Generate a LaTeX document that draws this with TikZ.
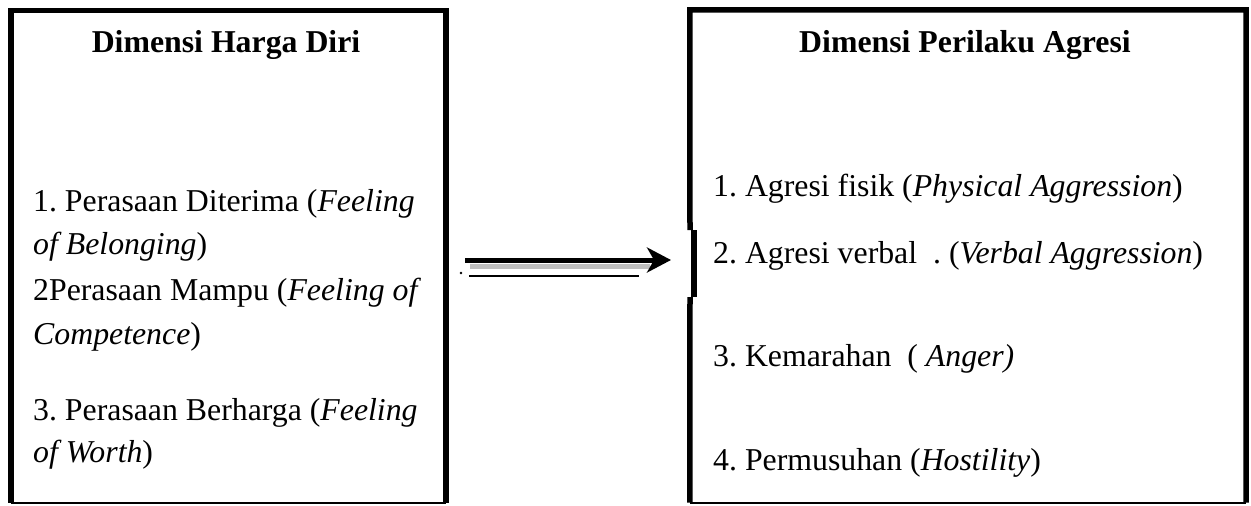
\documentclass[tikz,border=0pt]{standalone}
\usepackage{fontspec}
\setmainfont{Liberation Serif}
\usetikzlibrary{arrows.meta}
\begin{document}
\frenchspacing
\begin{tikzpicture}[x=1pt,y=-1pt,
  boxshape/.style={rectangle,draw=none,inner sep=0pt},
  thinedge/.style={line width=1.6pt,draw=black},
  thickedge/.style={line width=5.5pt,draw=black},
  txt/.style={anchor=base west,inner sep=0pt,font=\fontsize{31.8}{38}\selectfont},
  ttl/.style={anchor=base,inner sep=0pt,font=\fontsize{31.8}{38}\selectfont\bfseries},
  arrowshaft/.style={line width=5pt,draw=black,-{Stealth[length=24pt,width=25pt,inset=7pt]}}
]
\useasboundingbox (0,0) rectangle (1251,506);
% left box
\node[boxshape,minimum width=435pt,minimum height=492pt] (L) at (228.5,256.5) {};
\draw[thinedge] (L.south west) -- (L.south east);
\draw[thickedge] (L.south west) -- (L.north west) -- (L.north east) -- (L.south east);
% right box
\node[boxshape,minimum width=556pt,minimum height=492.5pt] (R) at (968,256.25) {};
\coordinate (j1) at (690,230);
\coordinate (j2) at (694,230);
\coordinate (j3) at (694,297);
\coordinate (j4) at (690,297);
\draw[thinedge] (R.south west) -- (R.south east);
\draw[thickedge] (j1) -- (R.north west) -- (R.north east) -- (R.south east);
\draw[thickedge] (j2) -- (j3);
\draw[thickedge] (j4) -- (R.south west);
% titles
\node[ttl] (lt) at (226,52) {Dimensi Harga Diri};
\node[ttl] (rt) at (965,52) {Dimensi Perilaku Agresi};
% left items
\node[txt] (l1) at (33,211) {1. Perasaan Diterima (\textit{Feeling}};
\node[txt] (l2) at (33,254) {\textit{of Belonging})};
\node[txt] (l3) at (33,300) {2Perasaan Mampu (\textit{Feeling of}};
\node[txt] (l4) at (33,344) {\textit{Competence})};
\node[txt] (l5) at (33,420) {3. Perasaan Berharga (\textit{Feeling}};
\node[txt] (l6) at (33,462) {\textit{of Worth})};
% right items
\node[txt] (r1) at (713,196) {1. Agresi fisik (\textit{Physical Aggression})};
\node[txt] (r2) at (713,263) {2. Agresi verbal\ \ . (\textit{Verbal Aggression})};
\node[txt] (r3) at (713,366) {3. Kemarahan\ \ ( \textit{Anger)}};
\node[txt] (r4) at (713,470) {4. Permusuhan (\textit{Hostility})};
% arrow
\coordinate (as) at (465,260);
\coordinate (ae) at (671,260);
\draw[line width=5pt,draw=black!25] (470,266) -- (650,266);
\draw[arrowshaft] (as) -- (ae);
\draw[line width=1.6pt] (469,276) -- (639,276);
\fill (461,273) circle (1.3pt);
\end{tikzpicture}
\end{document}
